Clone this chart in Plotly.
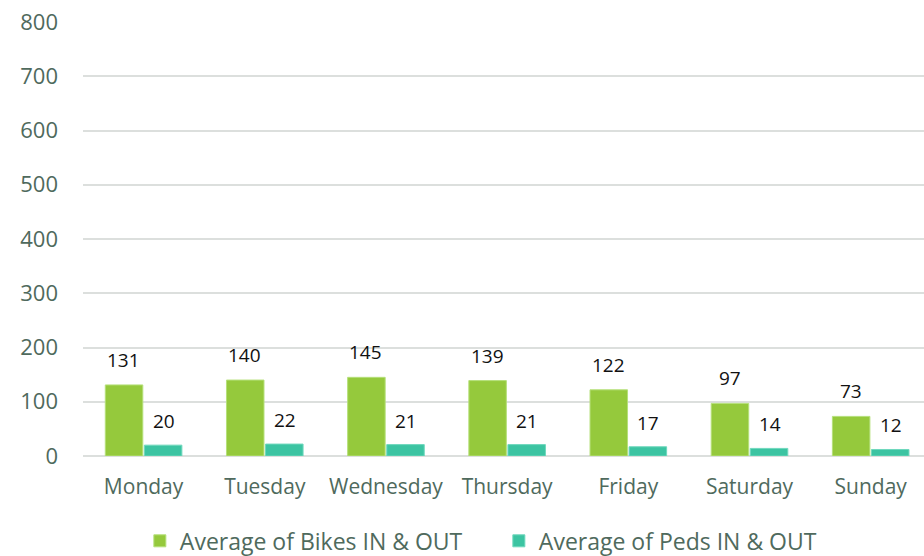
import plotly.graph_objects as go

days = ["Monday", "Tuesday", "Wednesday", "Thursday", "Friday", "Saturday", "Sunday"]
bikes = [131, 140, 145, 139, 122, 97, 73]
peds = [20, 22, 21, 21, 17, 14, 12]
y_ticks = [0, 100, 200, 300, 400, 500, 600, 700, 800]

bike_color = "#95c93c"
peds_color = "#3cc4a2"
axis_text = "#4f6a5d"
font_family = "'Open Sans', sans-serif"

fig = go.Figure()
fig.add_trace(go.Bar(
    x=days, y=bikes, name="Average of Bikes IN & OUT",
    marker=dict(color=bike_color, line=dict(color="#b5e07a", width=1)),
))
fig.add_trace(go.Bar(
    x=days, y=peds, name="Average of Peds IN & OUT",
    marker=dict(color=peds_color, line=dict(color="#6fd8bd", width=1)),
))

# value labels sit above each bar, nudged left for bikes and right for peds
annotations = []
for i, d in enumerate(days):
    annotations.append(dict(x=d, y=bikes[i], text=str(bikes[i]), showarrow=False,
                            xshift=-20, yshift=25, font=dict(size=19, color="#111111")))
    annotations.append(dict(x=d, y=peds[i], text=str(peds[i]), showarrow=False,
                            xshift=20, yshift=24, font=dict(size=19, color="#111111")))

fig.update_layout(
    width=924, height=556,
    margin=dict(l=83, r=0, t=22, b=100, autoexpand=False),
    plot_bgcolor="white", paper_bgcolor="white",
    font=dict(family=font_family, color=axis_text),
    barmode="group", bargap=0.355, bargroupgap=0.04,
    annotations=annotations,
    legend=dict(orientation="h", x=0.0676, xanchor="left", y=-0.146, yanchor="top",
                font=dict(size=23, color=axis_text), itemwidth=30, traceorder="normal",
                entrywidth=314, entrywidthmode="pixels"),
    xaxis=dict(range=[-0.5, 6.44], showgrid=False, showline=False, ticks="",
               tickfont=dict(size=21, color=axis_text), ticklabelstandoff=16,
               fixedrange=True),
    yaxis=dict(range=[0, 800], tickvals=y_ticks, showgrid=True, gridcolor="#dcdfdd",
               gridwidth=1.5, zeroline=True, zerolinecolor="#dcdfdd", zerolinewidth=1.5,
               tickfont=dict(size=22, color=axis_text), ticklabelstandoff=24,
               fixedrange=True),
)

fig.write_html("out.html")
